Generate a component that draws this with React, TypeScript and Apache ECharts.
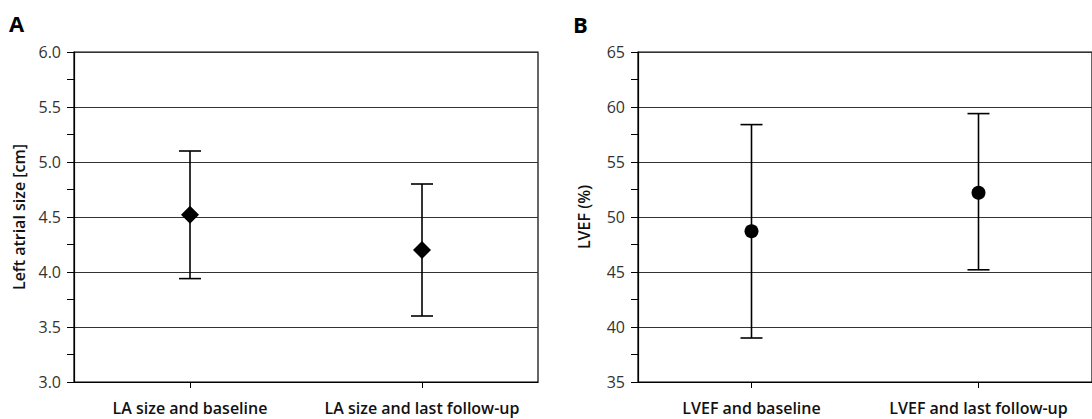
import React, { useEffect, useRef } from "react";
import * as echarts from "echarts";

const categoriesA = ["LA size and baseline", "LA size and last follow-up"];
const meanA = [4.52, 4.2];
const lowerA = [3.94, 3.6];
const upperA = [5.1, 4.8];

const categoriesB = ["LVEF and baseline", "LVEF and last follow-up"];
const meanB = [48.7, 52.2];
const lowerB = [39.0, 45.2];
const upperB = [58.4, 59.4];

const FONT = "Open Sans";

function errRender(params: any, api: any) {
  const x = api.value(0);
  const lo = api.value(1);
  const hi = api.value(2);
  const pHi = api.coord([x, hi]);
  const pLo = api.coord([x, lo]);
  const hw = 11;
  const st = { stroke: "#000", lineWidth: 1.6 };
  return {
    type: "group",
    children: [
      { type: "line", shape: { x1: pHi[0], y1: pHi[1], x2: pLo[0], y2: pLo[1] }, style: st },
      { type: "line", shape: { x1: pHi[0] - hw, y1: pHi[1], x2: pHi[0] + hw, y2: pHi[1] }, style: st },
      { type: "line", shape: { x1: pLo[0] - hw, y1: pLo[1], x2: pLo[0] + hw, y2: pLo[1] }, style: st },
    ],
  };
}

function yAxisCfg(idx: number, min: number, max: number, interval: number, name: string, digits: number, nameGap: number) {
  return {
    type: "value",
    gridIndex: idx,
    min,
    max,
    interval,
    name,
    nameLocation: "middle",
    nameRotate: 90,
    nameGap,
    nameTextStyle: { fontFamily: FONT, fontSize: 16, fontWeight: 600, color: "#111" },
    axisLine: { show: true, lineStyle: { color: "#000", width: 1.2 } },
    axisTick: { show: true, length: 7, lineStyle: { color: "#000", width: 1 } },
    minorTick: { show: true, splitNumber: 2, length: 7, lineStyle: { color: "#000", width: 1 } },
    axisLabel: {
      margin: 13,
      fontFamily: FONT,
      fontSize: 16,
      color: "#333",
      formatter: (v: number) => v.toFixed(digits),
    },
    splitLine: { show: true, lineStyle: { color: "#333", width: 1.2 } },
  };
}

function xAxisCfg(idx: number, cats: string[]) {
  return {
    type: "category",
    gridIndex: idx,
    data: cats,
    boundaryGap: true,
    axisLine: { show: true, lineStyle: { color: "#000", width: 1.2 } },
    axisTick: { show: true, alignWithLabel: true, interval: 0, length: 6, lineStyle: { color: "#000" } },
    axisLabel: { interval: 0, hideOverlap: false, margin: 18, fontFamily: FONT, fontSize: 16, fontWeight: 600, color: "#111" },
    splitLine: { show: false },
  };
}

export default function App() {
  const ref = useRef<HTMLDivElement>(null);
  useEffect(() => {
    if (!ref.current) return;
    const chart = echarts.init(ref.current, undefined, { renderer: "svg" });
    chart.setOption({
      animation: false,
      backgroundColor: "#fff",
      grid: [
        { left: 74, top: 52, width: 464, height: 330, show: true, borderColor: "#000", borderWidth: 1.2, backgroundColor: "transparent" },
        { left: 638, top: 52, width: 464, height: 330, show: true, borderColor: "#000", borderWidth: 1.2, backgroundColor: "transparent" },
      ],
      xAxis: [xAxisCfg(0, categoriesA), xAxisCfg(1, categoriesB)],
      yAxis: [
        yAxisCfg(0, 3, 6, 0.5, "Left atrial size [cm]", 1, 47),
        yAxisCfg(1, 35, 65, 5, "LVEF (%)", 0, 46),
      ],
      graphic: [
        { type: "text", left: 9, top: 12, style: { text: "A", fontFamily: FONT, fontSize: 22, fontWeight: "bold", fill: "#000" } },
        { type: "text", left: 573, top: 13, style: { text: "B", fontFamily: FONT, fontSize: 22, fontWeight: "bold", fill: "#000" } },
      ],
      series: [
        {
          type: "custom",
          xAxisIndex: 0,
          yAxisIndex: 0,
          renderItem: errRender,
          encode: { x: 0, y: [1, 2] },
          data: categoriesA.map((_, i) => [i, lowerA[i], upperA[i]]),
          z: 2,
        },
        {
          type: "scatter",
          xAxisIndex: 0,
          yAxisIndex: 0,
          symbol: "diamond",
          symbolSize: 18,
          itemStyle: { color: "#000", opacity: 1 },
          data: categoriesA.map((_, i) => [i, meanA[i]]),
          z: 3,
        },
        {
          type: "custom",
          xAxisIndex: 1,
          yAxisIndex: 1,
          renderItem: errRender,
          encode: { x: 0, y: [1, 2] },
          data: categoriesB.map((_, i) => [i, lowerB[i], upperB[i]]),
          z: 2,
        },
        {
          type: "scatter",
          xAxisIndex: 1,
          yAxisIndex: 1,
          symbol: "circle",
          symbolSize: 14,
          itemStyle: { color: "#000", opacity: 1 },
          data: categoriesB.map((_, i) => [i, meanB[i]]),
          z: 3,
        },
      ],
    });
    return () => chart.dispose();
  }, []);
  return (
    <div
      ref={ref}
      style={{ position: "fixed", left: 0, top: 0, width: 1092, height: 419, background: "#fff" }}
    />
  );
}
